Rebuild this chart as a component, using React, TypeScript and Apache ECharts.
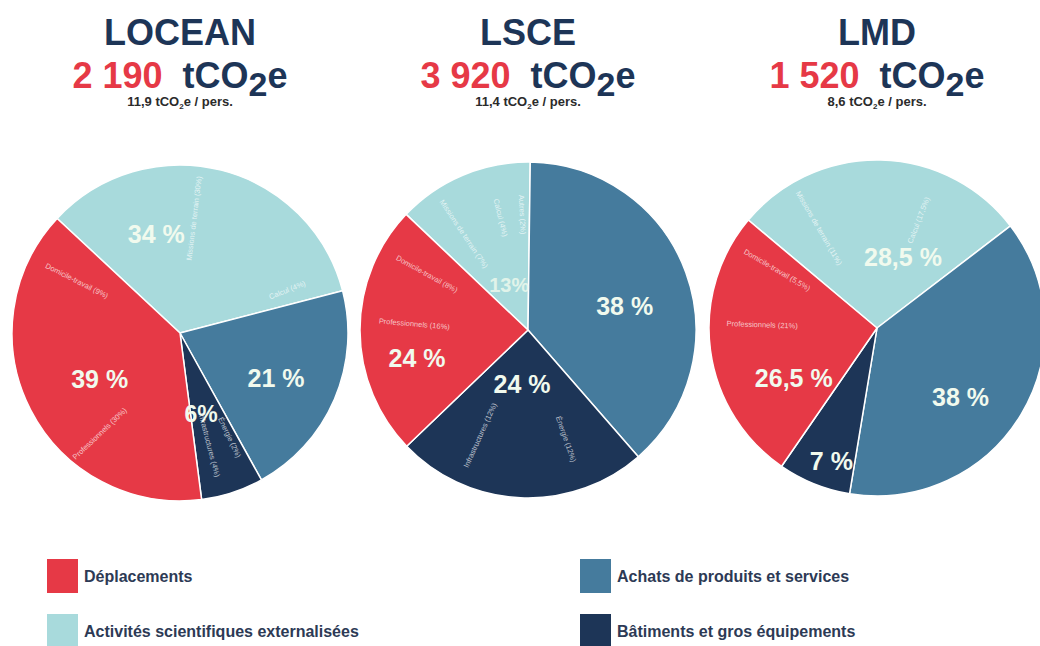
import React, { useEffect, useRef } from 'react';
import * as echarts from 'echarts';

// ---------- data ----------
const CATEGORIES = [
  'Activités scientifiques externalisées',
  'Achats de produits et services',
  'Bâtiments et gros équipements',
  'Déplacements',
];
const LABS = ['LOCEAN', 'LSCE', 'LMD'];
const TOTALS = ['2 190', '3 920', '1 520'];
const PER_PERSON = ['11,9', '11,4', '8,6'];

const LOCEAN_SHARES = [34, 21, 6, 39];
const LSCE_SHARES = [13, 38, 24, 24];
const LMD_SHARES = [28.5, 38, 7, 26.5];

// sub-categories (clockwise, same order as main slices); '' = no label
const LOCEAN_SUB_NAMES = ['Missions de terrain', 'Calcul', '', 'Énergie', 'Infrastructures', 'Professionnels', 'Domicile-travail'];
const LOCEAN_SUB_VALUES = [30, 4, 21, 2, 4, 30, 9];
const LSCE_SUB_NAMES = ['Missions de terrain', 'Calcul', 'Autres', '', 'Énergie', 'Infrastructures', 'Professionnels', 'Domicile-travail'];
const LSCE_SUB_VALUES = [7, 4, 2, 38, 12, 12, 16, 8];
const LMD_SUB_NAMES = ['Missions de terrain', 'Calcul', '', '', 'Professionnels', 'Domicile-travail'];
const LMD_SUB_VALUES = [11, 17.5, 38, 7, 21, 5.5];

// ---------- style ----------
const COLORS = ['#a8dadc', '#457b9d', '#1d3557', '#e63946'];
const NAVY = '#1d3557';
const RED = '#e63946';
const WHITE = '#f1faee';
const FONT = '"Liberation Sans", Arial, Helvetica, sans-serif';
const CENTERS = [[180, 333], [528, 330], [877, 328]];
const RADIUS = 168;
const START_ANGLES = [137, 136.5, 140];
const LABEL_NUDGES = [
  [[-45, -15], [16, 11], [-6, -2], [-3, 6]],
  [[15, 35], [15, 6], [-2, -33], [-24, 28]],
  [[24, 16], [9, 24], [-13, 52], [3, 38]],
];
// per sub-label nudges: [dx, dy, rotate?] (null = default)
const SUB_NUDGES: (number[] | null)[][] = [
  [null, null, null, null, null, [-12, 18], null],
  [null, null, null, null, null, null, [-5, -35, -5], null],
  [null, null, null, null, [-6, -38, -2], null],
];
const COMPACT = [[2], [0], []]; // slices whose label is compact ("6%")

const fmt = (v: number) => String(v).replace('.', ',');

function buildOption() {
  const shares = [LOCEAN_SHARES, LSCE_SHARES, LMD_SHARES];
  const subNames = [LOCEAN_SUB_NAMES, LSCE_SUB_NAMES, LMD_SUB_NAMES];
  const subValues = [LOCEAN_SUB_VALUES, LSCE_SUB_VALUES, LMD_SUB_VALUES];
  const series: any[] = [];
  LABS.forEach((lab, k) => {
    series.push({
      type: 'pie',
      name: lab,
      z: 2,
      center: CENTERS[k],
      radius: RADIUS,
      startAngle: START_ANGLES[k],
      clockwise: true,
      silent: true,
      avoidLabelOverlap: false,
      emphasis: { disabled: true },
      itemStyle: { borderColor: '#ffffff', borderWidth: 1.5 },
      labelLine: { show: false },
      label: {
        show: true,
        position: 'inside',
        color: WHITE,
        fontFamily: FONT,
        fontWeight: 'bold',
        fontSize: 25,
        formatter: (p: any) => `${fmt(p.value)} %`,
      },
      labelLayout: (p: any) => {
        const n = LABEL_NUDGES[k][p.dataIndex];
        return n ? { dx: n[0], dy: n[1] } : {};
      },
      data: CATEGORIES.map((c, i) => {
        const compact = COMPACT[k].includes(i);
        return {
          name: c,
          value: shares[k][i],
          itemStyle: { color: COLORS[i] },
          label: compact
            ? {
                fontSize: k === 1 ? 20 : 23,
                color: k === 1 ? 'rgba(241,250,238,0.8)' : WHITE,
                formatter: (p: any) => `${fmt(p.value)}%`,
              }
            : undefined,
        };
      }),
    });
    series.push({
      type: 'pie',
      name: lab + '-detail',
      z: 3,
      center: CENTERS[k],
      radius: [RADIUS * 0.34, RADIUS],
      startAngle: START_ANGLES[k],
      clockwise: true,
      silent: true,
      avoidLabelOverlap: false,
      emphasis: { disabled: true },
      itemStyle: { color: 'rgba(0,0,0,0)', borderWidth: 0 },
      labelLine: { show: false },
      label: {
        show: true,
        position: 'inside',
        rotate: 'radial',
        color: 'rgba(255,255,255,0.7)',
        fontFamily: FONT,
        fontSize: 7.5,
        formatter: (p: any) => `${p.name} (${fmt(p.value)}%)`,
      },
      labelLayout: (p: any) => {
        const n = SUB_NUDGES[k][p.dataIndex];
        if (!n) return {};
        const out: any = { dx: n[0], dy: n[1] };
        if (n.length > 2) out.rotate = n[2];
        return out;
      },
      data: subValues[k].map((v, i) => ({
        name: subNames[k][i] || ' ',
        value: v,
        label: { show: !!subNames[k][i] },
      })),
    });
  });

  const graphic: any[] = [];
  LABS.forEach((lab, k) => {
    const x = CENTERS[k][0];
    graphic.push({
      type: 'text',
      x,
      y: 14,
      silent: true,
      style: {
        text: lab,
        align: 'center',
        verticalAlign: 'top',
        font: `bold 36px ${FONT}`,
        fill: NAVY,
      },
    });
    graphic.push({
      type: 'text',
      x,
      y: 57,
      silent: true,
      style: {
        text: `{r|${TOTALS[k]}}  {n|tCO}{s|2}{n|e}`,
        align: 'center',
        verticalAlign: 'top',
        font: `bold 36px ${FONT}`,
        fill: NAVY,
        rich: {
          r: { fill: RED, fontSize: 36, fontWeight: 'bold', fontFamily: FONT, verticalAlign: 'top' },
          n: { fill: NAVY, fontSize: 36, fontWeight: 'bold', fontFamily: FONT, verticalAlign: 'top' },
          s: { fill: NAVY, fontSize: 34, fontWeight: 'bold', fontFamily: FONT, verticalAlign: 'top', padding: [10, 0, 0, 0] },
        },
      },
    });
    graphic.push({
      type: 'text',
      x,
      y: 95,
      silent: true,
      style: {
        text: `{a|${PER_PERSON[k]} tCO}{s|2}{a|e / pers.}`,
        align: 'center',
        verticalAlign: 'top',
        font: `bold 13px ${FONT}`,
        fill: '#2b2b2b',
        rich: {
          a: { fill: '#2b2b2b', fontSize: 13, fontWeight: 'bold', fontFamily: FONT, verticalAlign: 'top' },
          s: { fill: '#2b2b2b', fontSize: 8, fontWeight: 'bold', fontFamily: FONT, verticalAlign: 'top', padding: [7, 0, 0, 0] },
        },
      },
    });
  });

  const legendBase = {
    orient: 'vertical',
    itemWidth: 33,
    itemHeight: 36,
    itemGap: 20,
    icon: 'rect',
    selectedMode: false,
    padding: 0,
    textStyle: { fontSize: 16, fontWeight: 'bold', color: '#2d3a55', fontFamily: FONT },
  };

  return {
    animation: false,
    backgroundColor: '#ffffff',
    legend: [
      { ...legendBase, left: 45, top: 557, data: [CATEGORIES[3]] },
      { ...legendBase, left: 45, top: 612, data: [CATEGORIES[0]] },
      { ...legendBase, left: 578, top: 557, data: [CATEGORIES[1]] },
      { ...legendBase, left: 578, top: 612, data: [CATEGORIES[2]] },
    ],
    graphic,
    series,
  };
}

export default function App() {
  const ref = useRef<HTMLDivElement>(null);
  useEffect(() => {
    if (!ref.current) return;
    const chart = echarts.init(ref.current, undefined, { renderer: 'svg' });
    chart.setOption(buildOption() as any);
    return () => chart.dispose();
  }, []);
  return (
    <div
      ref={ref}
      style={{ position: 'absolute', left: 0, top: 0, width: 1040, height: 646, background: '#fff' }}
    />
  );
}
